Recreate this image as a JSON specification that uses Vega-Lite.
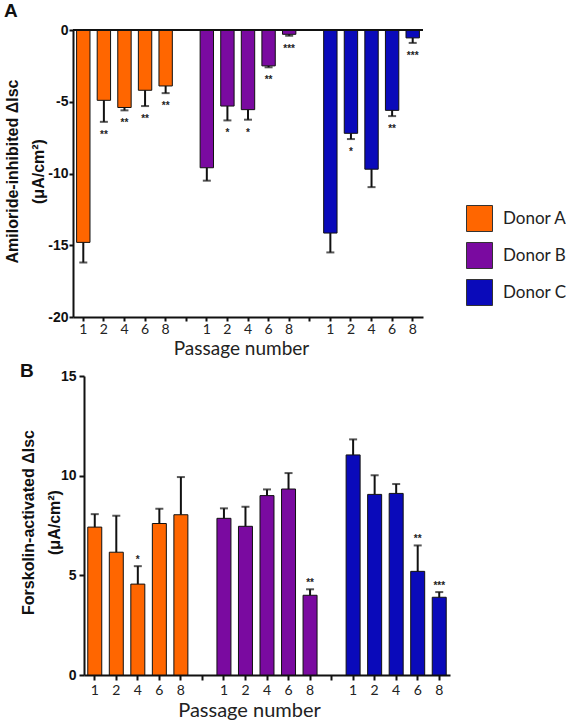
{
  "$schema": "https://vega.github.io/schema/vega-lite/v6.json",
  "background": "white",
  "padding": {"left": 3, "top": 2, "right": 0, "bottom": 0},
  "config": {"view": {"stroke": null}, "font": "Liberation Sans"},
  "spacing": 4,
  "datasets": {
    "amil": [
      {"key": "A1", "donor": "Donor A", "mean": -14.8, "err": -16.2, "star": ""},
      {"key": "A2", "donor": "Donor A", "mean": -4.9, "err": -6.4, "star": "**"},
      {"key": "A4", "donor": "Donor A", "mean": -5.4, "err": -5.6, "star": "**"},
      {"key": "A6", "donor": "Donor A", "mean": -4.2, "err": -5.3, "star": "**"},
      {"key": "A8", "donor": "Donor A", "mean": -3.9, "err": -4.4, "star": "**"},
      {"key": "B1", "donor": "Donor B", "mean": -9.6, "err": -10.5, "star": ""},
      {"key": "B2", "donor": "Donor B", "mean": -5.3, "err": -6.3, "star": "*"},
      {"key": "B4", "donor": "Donor B", "mean": -5.55, "err": -6.25, "star": "*"},
      {"key": "B6", "donor": "Donor B", "mean": -2.5, "err": -2.6, "star": "**"},
      {"key": "B8", "donor": "Donor B", "mean": -0.3, "err": -0.4, "star": "***"},
      {"key": "C1", "donor": "Donor C", "mean": -14.15, "err": -15.5, "star": ""},
      {"key": "C2", "donor": "Donor C", "mean": -7.2, "err": -7.6, "star": "*"},
      {"key": "C4", "donor": "Donor C", "mean": -9.7, "err": -10.95, "star": ""},
      {"key": "C6", "donor": "Donor C", "mean": -5.6, "err": -6.0, "star": "**"},
      {"key": "C8", "donor": "Donor C", "mean": -0.55, "err": -0.9, "star": "***"}
    ],
    "forsk": [
      {"key": "A1", "donor": "Donor A", "mean": 7.42, "err": 8.07, "star": ""},
      {"key": "A2", "donor": "Donor A", "mean": 6.16, "err": 7.99, "star": ""},
      {"key": "A4", "donor": "Donor A", "mean": 4.56, "err": 5.46, "star": "*"},
      {"key": "A6", "donor": "Donor A", "mean": 7.6, "err": 8.34, "star": ""},
      {"key": "A8", "donor": "Donor A", "mean": 8.04, "err": 9.93, "star": ""},
      {"key": "B1", "donor": "Donor B", "mean": 7.86, "err": 8.36, "star": ""},
      {"key": "B2", "donor": "Donor B", "mean": 7.46, "err": 8.44, "star": ""},
      {"key": "B4", "donor": "Donor B", "mean": 9.0, "err": 9.31, "star": ""},
      {"key": "B6", "donor": "Donor B", "mean": 9.33, "err": 10.13, "star": ""},
      {"key": "B8", "donor": "Donor B", "mean": 4.0, "err": 4.3, "star": "**"},
      {"key": "C1", "donor": "Donor C", "mean": 11.04, "err": 11.82, "star": ""},
      {"key": "C2", "donor": "Donor C", "mean": 9.06, "err": 10.02, "star": ""},
      {"key": "C4", "donor": "Donor C", "mean": 9.11, "err": 9.58, "star": ""},
      {"key": "C6", "donor": "Donor C", "mean": 5.2, "err": 6.5, "star": "**"},
      {"key": "C8", "donor": "Donor C", "mean": 3.9, "err": 4.16, "star": "***"}
    ]
  },
  "vconcat": [
    {
      "width": 350,
      "height": 287,
      "title": {"text": "A", "anchor": "start", "frame": "bounds", "fontSize": 19, "fontWeight": "bold", "font": "Liberation Sans", "color": "#111", "offset": 2},
      "data": {"name": "amil"},
      "layer": [
        {
          "mark": {"type": "bar", "width": {"band": 0.65}, "stroke": "#111", "strokeWidth": 1},
          "encoding": {
            "x": {"field": "key", "type": "nominal",
              "scale": {"domain": ["A1","A2","A4","A6","A8","g-1","B1","B2","B4","B6","B8","g-2","C1","C2","C4","C6","C8"], "paddingInner": 0, "paddingOuter": 0},
              "axis": {"title": "Passage number", "labelExpr": "length(datum.value) == 2 ? substring(datum.value, 1) : ''", "labelAngle": 0, "tickSize": 4, "tickWidth": 2, "tickColor": "#111", "domainWidth": 2, "domainColor": "#111", "labelFont": "Lato", "labelFontSize": 14, "labelColor": "#222", "labelPadding": 1, "titleFont": "Lato", "titleFontSize": 19, "titleFontWeight": "normal", "titleColor": "#222", "titlePadding": 3, "titleX": 168, "grid": false}},
            "y": {"field": "mean", "type": "quantitative",
              "scale": {"domain": [-20, 0], "nice": false, "zero": true},
              "axis": {"title": ["Amiloride-inhibited ΔIsc", "(μA/cm²)"], "values": [-20, -15, -10, -5, 0], "labelExpr": "datum.value < 0 ? '-' + abs(datum.value) : '' + datum.value", "tickSize": 4, "tickWidth": 2, "tickColor": "#111", "domainWidth": 2, "domainColor": "#111", "labelFontSize": 14, "labelFontWeight": "bold", "labelColor": "#111", "labelPadding": 1, "titleFontSize": 16, "titleFontWeight": "bold", "titleColor": "#111", "titleLineHeight": 26, "titleX": -53, "titleY": 141, "grid": false}},
            "color": {"field": "donor", "type": "nominal",
              "scale": {"domain": ["Donor A", "Donor B", "Donor C"], "range": ["#FF6600", "#7A0AA0", "#0A0ABA"]},
              "legend": {"title": null, "orient": "none", "legendX": 393, "legendY": 175, "symbolType": "square", "symbolSize": 676, "symbolStrokeColor": "#333", "symbolStrokeWidth": 1, "symbolOpacity": 1, "labelFont": "Lato", "labelFontSize": 17, "labelColor": "#222", "labelOffset": 10, "rowPadding": 6, "padding": 0}}
          }
        },
        {
          "mark": {"type": "rule", "strokeWidth": 2, "color": "#111"},
          "encoding": {
            "x": {"field": "key", "type": "nominal"},
            "y": {"field": "mean", "type": "quantitative"},
            "y2": {"field": "err"}
          }
        },
        {
          "mark": {"type": "tick", "thickness": 2, "size": 8, "color": "#111"},
          "encoding": {
            "x": {"field": "key", "type": "nominal"},
            "y": {"field": "err", "type": "quantitative"}
          }
        },
        {
          "mark": {"type": "text", "fontSize": 10, "fontWeight": "bold", "color": "#222", "baseline": "alphabetic", "align": "center", "dy": 16},
          "encoding": {
            "x": {"field": "key", "type": "nominal"},
            "y": {"field": "err", "type": "quantitative"},
            "text": {"field": "star"}
          }
        },
        {
          "mark": {"type": "rule", "strokeWidth": 2, "color": "#111"},
          "encoding": {"y": {"datum": 0}}
        }
      ]
    },
    {
      "width": 377,
      "height": 299,
      "title": {"text": "B", "anchor": "start", "frame": "bounds", "fontSize": 19, "fontWeight": "bold", "font": "Liberation Sans", "color": "#111", "offset": -12},
      "data": {"name": "forsk"},
      "layer": [
        {
          "mark": {"type": "bar", "width": {"band": 0.65}, "stroke": "#111", "strokeWidth": 1},
          "encoding": {
            "x": {"field": "key", "type": "nominal",
              "scale": {"domain": ["A1","A2","A4","A6","A8","g-1","B1","B2","B4","B6","B8","g-2","C1","C2","C4","C6","C8"], "paddingInner": 0, "paddingOuter": 0, "range": [11, 377]},
              "axis": {"title": "Passage number", "labelExpr": "length(datum.value) == 2 ? substring(datum.value, 1) : ''", "labelAngle": 0, "tickSize": 5, "tickWidth": 2, "tickColor": "#111", "domainWidth": 2, "domainColor": "#111", "labelFont": "Lato", "labelFontSize": 14, "labelColor": "#222", "labelPadding": 3, "titleFont": "Lato", "titleFontSize": 20, "titleFontWeight": "normal", "titleColor": "#222", "titlePadding": 3, "titleX": 176, "grid": false}},
            "y": {"field": "mean", "type": "quantitative",
              "scale": {"domain": [0, 15], "nice": false},
              "axis": {"title": ["Forskolin-activated ΔIsc", "(μA/cm²)"], "values": [0, 5, 10, 15], "offset": -11, "tickSize": 5, "tickWidth": 2, "tickColor": "#111", "domainWidth": 2, "domainColor": "#111", "labelFontSize": 14, "labelFontWeight": "bold", "labelColor": "#111", "labelPadding": 3, "titleFontSize": 16, "titleFontWeight": "bold", "titleColor": "#111", "titleLineHeight": 26, "titleX": -48, "titleY": 146, "grid": false}},
            "color": {"field": "donor", "type": "nominal",
              "scale": {"domain": ["Donor A", "Donor B", "Donor C"], "range": ["#FF6600", "#7A0AA0", "#0A0ABA"]},
              "legend": null}
          }
        },
        {
          "mark": {"type": "rule", "strokeWidth": 2, "color": "#111"},
          "encoding": {
            "x": {"field": "key", "type": "nominal"},
            "y": {"field": "mean", "type": "quantitative"},
            "y2": {"field": "err"}
          }
        },
        {
          "mark": {"type": "tick", "thickness": 2, "size": 8, "color": "#111"},
          "encoding": {
            "x": {"field": "key", "type": "nominal"},
            "y": {"field": "err", "type": "quantitative"}
          }
        },
        {
          "mark": {"type": "text", "fontSize": 10, "fontWeight": "bold", "color": "#222", "baseline": "alphabetic", "align": "center", "dy": -3},
          "encoding": {
            "x": {"field": "key", "type": "nominal"},
            "y": {"field": "err", "type": "quantitative"},
            "text": {"field": "star"}
          }
        }
      ]
    }
  ],
  "resolve": {"scale": {"color": "independent", "x": "independent", "y": "independent"}, "legend": {"color": "independent"}}
}
